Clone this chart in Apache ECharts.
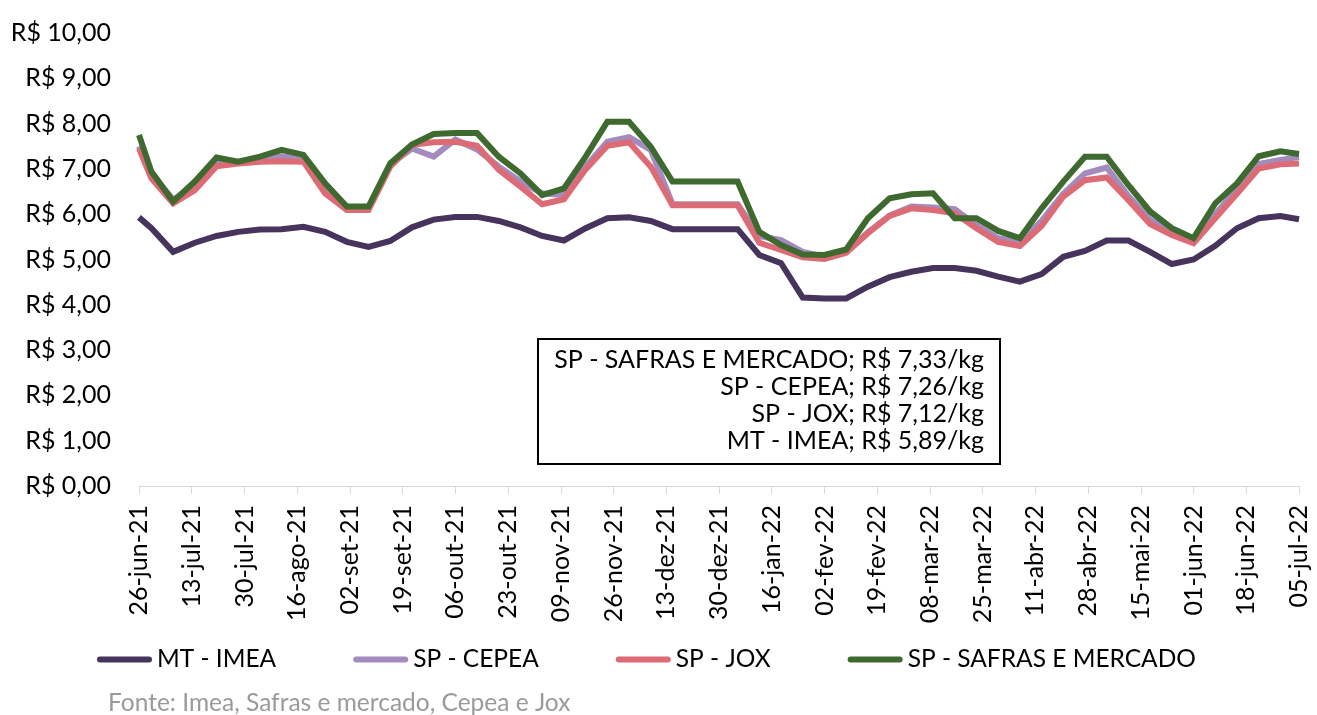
<!DOCTYPE html>
<html>
<head>
<meta charset="utf-8">
<script src="https://cdn.jsdelivr.net/npm/echarts@6/dist/echarts.min.js"></script>
<style>
  html, body { margin: 0; padding: 0; background: #fff; }
  #chart { width: 1317px; height: 715px; }
</style>
</head>
<body>
<div id="chart"></div>
<script>
// weekly price dates (first one is the axis start)
const dates = [
  '2021-06-26', '2021-06-30', '2021-07-07', '2021-07-14', '2021-07-21', '2021-07-28',
  '2021-08-04', '2021-08-11', '2021-08-18', '2021-08-25', '2021-09-01', '2021-09-08',
  '2021-09-15', '2021-09-22', '2021-09-29', '2021-10-06', '2021-10-13', '2021-10-20',
  '2021-10-27', '2021-11-03', '2021-11-10', '2021-11-17', '2021-11-24', '2021-12-01',
  '2021-12-08', '2021-12-15', '2021-12-22', '2021-12-29', '2022-01-05', '2022-01-12',
  '2022-01-19', '2022-01-26', '2022-02-02', '2022-02-09', '2022-02-16', '2022-02-23',
  '2022-03-02', '2022-03-09', '2022-03-16', '2022-03-23', '2022-03-30', '2022-04-06',
  '2022-04-13', '2022-04-20', '2022-04-27', '2022-05-04', '2022-05-11', '2022-05-18',
  '2022-05-25', '2022-06-01', '2022-06-08', '2022-06-15', '2022-06-22', '2022-06-29',
  '2022-07-05'
];

const mtImea = [
  5.93, 5.69, 5.17, 5.37, 5.52, 5.61, 5.66, 5.67, 5.72, 5.61,
  5.39, 5.28, 5.41, 5.71, 5.88, 5.94, 5.94, 5.85, 5.71, 5.52,
  5.42, 5.69, 5.91, 5.93, 5.85, 5.67, 5.67, 5.67, 5.67, 5.10,
  4.92, 4.16, 4.14, 4.14, 4.40, 4.61, 4.73, 4.81, 4.81, 4.75,
  4.62, 4.51, 4.68, 5.06, 5.19, 5.42, 5.42, 5.17, 4.90, 5.00,
  5.30, 5.69, 5.91, 5.96, 5.89
];

const spCepea = [
  7.50, 6.88, 6.33, 6.60, 7.15, 7.15, 7.25, 7.28, 7.22, 6.55,
  6.12, 6.12, 7.10, 7.45, 7.27, 7.65, 7.43, 7.05, 6.72, 6.46,
  6.42, 7.05, 7.60, 7.70, 7.42, 6.22, 6.22, 6.22, 6.22, 5.52,
  5.43, 5.17, 5.06, 5.17, 5.60, 5.97, 6.17, 6.15, 6.11, 5.76,
  5.47, 5.39, 5.85, 6.45, 6.90, 7.03, 6.40, 5.88, 5.61, 5.40,
  6.00, 6.55, 7.11, 7.20, 7.26
];

const spJox = [
  7.45, 6.79, 6.24, 6.53, 7.06, 7.12, 7.16, 7.17, 7.16, 6.46,
  6.09, 6.09, 7.05, 7.53, 7.59, 7.60, 7.51, 6.98, 6.61, 6.22,
  6.33, 6.99, 7.51, 7.59, 7.05, 6.20, 6.20, 6.20, 6.20, 5.37,
  5.21, 5.05, 5.01, 5.15, 5.58, 5.96, 6.13, 6.09, 6.02, 5.69,
  5.39, 5.30, 5.74, 6.39, 6.75, 6.81, 6.31, 5.78, 5.54, 5.36,
  5.91, 6.45, 7.01, 7.10, 7.12
];

const spSafras = [
  7.75, 6.94, 6.28, 6.72, 7.25, 7.16, 7.27, 7.42, 7.31, 6.68,
  6.17, 6.17, 7.12, 7.54, 7.77, 7.79, 7.79, 7.27, 6.90, 6.42,
  6.57, 7.27, 8.04, 8.04, 7.49, 6.72, 6.72, 6.72, 6.72, 5.61,
  5.32, 5.11, 5.10, 5.22, 5.91, 6.35, 6.44, 6.46, 5.91, 5.91,
  5.63, 5.47, 6.13, 6.72, 7.27, 7.27, 6.64, 6.06, 5.69, 5.47,
  6.24, 6.68, 7.28, 7.39, 7.33
];

const seriesNames = ['MT - IMEA', 'SP - CEPEA', 'SP - JOX', 'SP - SAFRAS E MERCADO'];
const seriesColors = ['#46345c', '#a38bbd', '#dc6b76', '#3e6a2f'];
const monthNames = ['jan', 'fev', 'mar', 'abr', 'mai', 'jun', 'jul', 'ago', 'set', 'out', 'nov', 'dez'];

const FONT = 'Lato';
const DAY = 86400000;
const startMs = Date.parse(dates[0] + 'T00:00:00Z');
const endMs = Date.parse(dates[dates.length - 1] + 'T00:00:00Z');
const dayOf = d => Math.round((Date.parse(d + 'T00:00:00Z') - startMs) / DAY);

const pad2 = n => (n < 10 ? '0' : '') + n;
const dateLabel = days => {
  const d = new Date(startMs + days * DAY);
  return pad2(d.getUTCDate()) + '-' + monthNames[d.getUTCMonth()] + '-' + pad2(d.getUTCFullYear() % 100);
};
const brl = v => 'R$ ' + v.toFixed(2).replace('.', ',');

const allValues = [mtImea, spCepea, spJox, spSafras];

const chart = echarts.init(document.getElementById('chart'));

// text box lines: last value of each series
const boxLines = [3, 1, 2, 0].map(i => {
  const vals = allValues[i];
  return seriesNames[i] + '; ' + brl(vals[vals.length - 1]) + '/kg';
});

chart.setOption({
  animation: false,
  backgroundColor: '#fff',
  textStyle: { fontFamily: FONT, color: '#000' },
  grid: { left: 139, right: 18, top: 33, bottom: 229 },
  xAxis: {
    type: 'value',
    min: 0,
    max: Math.round((endMs - startMs) / DAY),
    interval: 17,
    splitLine: { show: false },
    axisLine: { lineStyle: { color: '#d9d9d9', width: 1 } },
    axisTick: { show: true, length: 8, lineStyle: { color: '#d9d9d9' } },
    axisLabel: {
      rotate: 90,
      margin: 19,
      fontSize: 25,
      color: '#000',
      fontFamily: FONT,
      showMinLabel: true,
      showMaxLabel: true,
      formatter: v => dateLabel(v)
    }
  },
  yAxis: {
    type: 'value',
    min: 0,
    max: 10,
    interval: 1,
    splitLine: { show: false },
    axisLine: { show: false },
    axisTick: { show: false },
    axisLabel: {
      margin: 28,
      fontSize: 25,
      color: '#000',
      fontFamily: FONT,
      formatter: v => brl(v)
    }
  },
  legend: {
    data: seriesNames,
    left: 92,
    top: 642,
    itemWidth: 55,
    itemHeight: 6,
    itemGap: 77,
    icon: 'path://M3,0L52,0A3,3,0,0,1,52,6L3,6A3,3,0,0,1,3,0Z',
    textStyle: { fontSize: 24.5, color: '#000', fontFamily: FONT }
  },
  series: allValues.map((vals, i) => ({
    name: seriesNames[i],
    type: 'line',
    showSymbol: false,
    symbol: 'none',
    color: seriesColors[i],
    lineStyle: { width: 6, color: seriesColors[i], join: 'miter', cap: 'butt' },
    data: vals.map((v, j) => [dayOf(dates[j]), v]),
    z: 2 + i
  })),
  graphic: [
    {
      type: 'rect',
      shape: { x: 538, y: 339, width: 462, height: 125 },
      style: { fill: '#fff', stroke: '#000', lineWidth: 2 },
      z: 100
    },
    {
      type: 'text',
      x: 984,
      y: 346,
      style: {
        text: boxLines.join('\n'),
        align: 'right',
        verticalAlign: 'top',
        lineHeight: 27,
        fontSize: 25,
        fontFamily: FONT,
        fill: '#000'
      },
      z: 101
    },
    {
      type: 'text',
      x: 108,
      y: 703,
      style: {
        text: 'Fonte: Imea, Safras e mercado, Cepea e Jox',
        verticalAlign: 'middle',
        fontSize: 24.5,
        fontFamily: FONT,
        fill: '#9a9a9a'
      }
    }
  ]
});
</script>
</body>
</html>
